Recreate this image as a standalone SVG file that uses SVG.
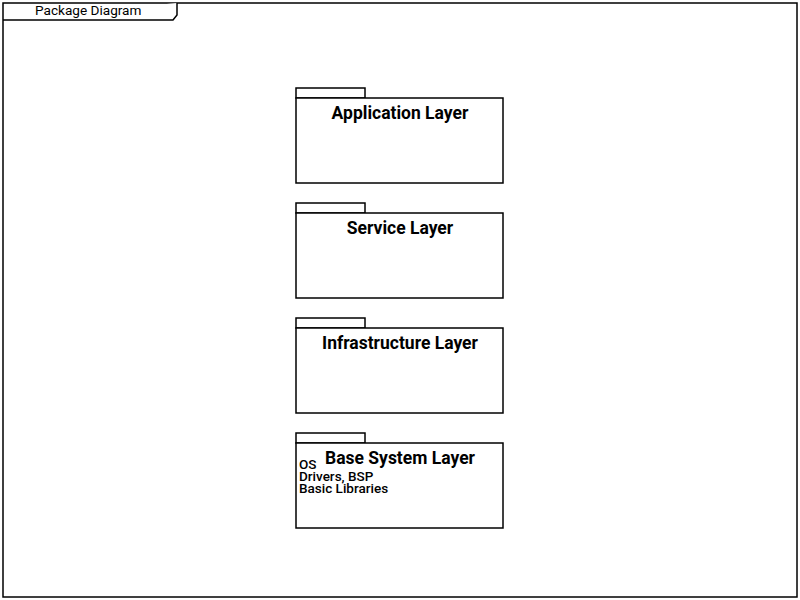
<svg xmlns="http://www.w3.org/2000/svg" width="800" height="600" viewBox="0 0 800 600">
<style>
.ln{fill:#fff;stroke:#000;stroke-width:1.5}
.t{font-family:Roboto,"Liberation Sans",sans-serif;font-size:17.5px;font-weight:bold;text-anchor:middle;fill:#000}
.s{font-family:Roboto,"Liberation Sans",sans-serif;font-size:13.5px;font-weight:500;fill:#000}
.f{font-family:Roboto,"Liberation Sans",sans-serif;font-size:13.6px;fill:#000}
</style>
<rect x="0" y="0" width="800" height="600" fill="#fff"/>
<g id="frame">
<rect x="3" y="3" width="794" height="594" class="ln"/>
<path d="M3,20 H173 L177,15 V3" class="ln"/>
<text x="35" y="15" class="f">Package Diagram</text>
</g>
<g id="application">
<rect x="296" y="88" width="69" height="10" class="ln"/>
<rect x="296" y="98" width="207" height="85" class="ln"/>
<text x="400" y="119" class="t">Application Layer</text>
</g>
<g id="service">
<rect x="296" y="203" width="69" height="10" class="ln"/>
<rect x="296" y="213" width="207" height="85" class="ln"/>
<text x="400" y="234" class="t">Service Layer</text>
</g>
<g id="infrastructure">
<rect x="296" y="318" width="69" height="10" class="ln"/>
<rect x="296" y="328" width="207" height="85" class="ln"/>
<text x="400" y="349" class="t">Infrastructure Layer</text>
</g>
<g id="base">
<rect x="296" y="433" width="69" height="10" class="ln"/>
<rect x="296" y="443" width="207" height="85" class="ln"/>
<text x="400" y="464" class="t">Base System Layer</text>
<text x="299" y="469" class="s">OS</text>
<text x="299" y="481" class="s">Drivers, BSP</text>
<text x="299" y="493" class="s">Basic Libraries</text>
</g>
<g id="connectors"></g>
</svg>
